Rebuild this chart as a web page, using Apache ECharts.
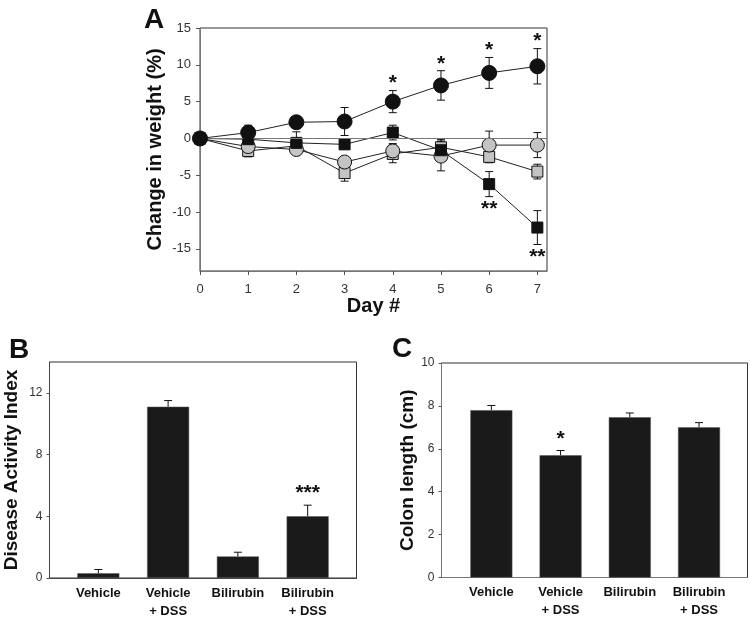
<!DOCTYPE html>
<html>
<head>
<meta charset="utf-8">
<script src="https://cdn.jsdelivr.net/npm/echarts@6/dist/echarts.min.js"></script>
<style>html,body{margin:0;padding:0;background:#fff}#c{width:750px;height:620px}</style>
</head>
<body>
<div id="c"></div>
<script>
// ---------- Panel A data ----------
const days = [0, 1, 2, 3, 4, 5, 6, 7];
const vehicle      = [0, 0.8, 2.2, 2.3, 5.0, 7.2, 8.9, 9.8];
const vehicleErr   = [0, 1.0, 0.3, 1.9, 1.5, 2.0, 2.1, 2.4];
const vehicleDSS   = [0, -0.1, -0.6, -0.8, 0.8, -1.6, -6.2, -12.1];
const vehicleDSSErr= [0, 0.5, 1.5, 0.6, 1.0, 1.5, 1.7, 2.3];
const bili         = [0, -1.1, -1.5, -3.2, -1.7, -2.4, -0.9, -0.9];
const biliErr      = [0, 0.8, 0.5, 0.7, 1.0, 2.0, 1.9, 1.7];
const biliDSS      = [0, -1.7, -1.0, -4.7, -2.1, -1.2, -2.5, -4.5];
const biliDSSErr   = [0, 0.8, 0.6, 1.1, 1.2, 1.0, 0.8, 1.0];
const starsAbove   = ['', '', '', '', '*', '*', '*', '*'];
const starsBelow   = ['', '', '', '', '', '', '**', '**'];
const yTicksA = [-15, -10, -5, 0, 5, 10, 15];

// ---------- Panel B / C data ----------
const groups = ['Vehicle', 'Vehicle\n+ DSS', 'Bilirubin', 'Bilirubin\n+ DSS'];
const dai     = [0.3, 11.1, 1.4, 4.0];
const daiErr  = [0.25, 0.4, 0.27, 0.72];
const daiStars = ['', '', '', '***'];
const colon    = [7.8, 5.7, 7.47, 7.0];
const colonErr = [0.22, 0.22, 0.2, 0.22];
const colonStars = ['', '*', '', ''];
const yTicksB = [0, 4, 8, 12];
const yTicksC = [0, 2, 4, 6, 8, 10];

const FONT = "'Liberation Sans', Arial, sans-serif";

function pts(xs, ys) { return xs.map((x, i) => [x, ys[i]]); }
function errData(xs, ys, es) { return xs.map((x, i) => [x, ys[i], es[i]]); }

function errRender(oneSided, above, below, cap, aboveOff, belowOff) {
  return function (params, api) {
    const x = api.value(0), m = api.value(1), e = api.value(2), i = params.dataIndex;
    const hi = api.coord([x, m + e]);
    const lo = api.coord([x, oneSided ? m : m - e]);
    const ch = [];
    const ls = { stroke: '#111', lineWidth: 1 };
    if (e > 0) {
      ch.push({ type: 'line', shape: { x1: hi[0], y1: hi[1], x2: lo[0], y2: lo[1] }, style: ls });
      ch.push({ type: 'line', shape: { x1: hi[0] - cap, y1: hi[1], x2: hi[0] + cap, y2: hi[1] }, style: ls });
      if (!oneSided) ch.push({ type: 'line', shape: { x1: lo[0] - cap, y1: lo[1], x2: lo[0] + cap, y2: lo[1] }, style: ls });
    }
    if (above && above[i]) {
      ch.push({ type: 'text', x: hi[0], y: hi[1] - aboveOff,
        style: { text: above[i], fill: '#111', font: 'bold 21px ' + FONT, align: 'center', verticalAlign: 'middle' } });
    }
    if (below && below[i]) {
      ch.push({ type: 'text', x: lo[0], y: lo[1] + belowOff,
        style: { text: below[i], fill: '#111', font: 'bold 21px ' + FONT, align: 'center', verticalAlign: 'middle' } });
    }
    return { type: 'group', children: ch };
  };
}

const tickLabelA = { color: '#333', fontSize: 13, fontFamily: FONT };
const tickLabel = { color: '#333', fontSize: 12, fontFamily: FONT };
const titleStyle = (s) => ({ color: '#111', fontSize: s, fontWeight: 'bold', fontFamily: FONT });

function lineSeries(data, symbol, size, fill, z) {
  return {
    type: 'line', xAxisIndex: 0, yAxisIndex: 0, data: data,
    symbol: symbol, symbolSize: size, z: z,
    lineStyle: { color: '#222', width: 1 },
    itemStyle: { color: fill, borderColor: '#111', borderWidth: 1 },
    animation: false
  };
}

const chart = echarts.init(document.getElementById('c'));
const option = {
  animation: false,
  backgroundColor: '#fff',
  textStyle: { fontFamily: FONT },
  grid: [
    { left: 200, top: 28, width: 347, height: 243, show: true, borderColor: '#333', borderWidth: 1, outerBoundsMode: 'none', containLabel: false },
    { left: 49.5, top: 362, width: 307, height: 216, show: true, borderColor: '#333', borderWidth: 1, outerBoundsMode: 'none', containLabel: false },
    { left: 441.5, top: 363, width: 306, height: 214.5, show: true, borderColor: '#333', borderWidth: 1, outerBoundsMode: 'none', containLabel: false }
  ],
  xAxis: [
    { gridIndex: 0, type: 'value', min: 0, max: 7.2,
      name: 'Day #', nameLocation: 'middle', nameGap: 22, nameTextStyle: titleStyle(20),
      axisLine: { onZero: false, lineStyle: { color: '#777' } }, splitLine: { show: false },
      axisTick: { show: true, inside: false, length: 4, lineStyle: { color: '#555' }, customValues: days },
      axisLabel: Object.assign({ margin: 12, customValues: days }, tickLabelA) },
    { gridIndex: 1, type: 'value', min: -0.7, max: 3.7,
      axisLine: { onZero: false, lineStyle: { color: '#444' } }, splitLine: { show: false }, axisTick: { show: false },
      axisLabel: { customValues: [0, 1, 2, 3], formatter: v => groups[Math.round(v)],
        color: '#111', fontSize: 13, fontWeight: 'bold', fontFamily: FONT, lineHeight: 18, margin: 6 } },
    { gridIndex: 2, type: 'value', min: -0.72, max: 3.7,
      axisLine: { onZero: false, lineStyle: { color: '#777' } }, splitLine: { show: false }, axisTick: { show: false },
      axisLabel: { customValues: [0, 1, 2, 3], formatter: v => groups[Math.round(v)],
        color: '#111', fontSize: 13, fontWeight: 'bold', fontFamily: FONT, lineHeight: 18, margin: 6 } }
  ],
  yAxis: [
    { gridIndex: 0, type: 'value', min: -18, max: 15,
      name: 'Change in weight (%)', nameLocation: 'middle', nameGap: 35, nameTextStyle: titleStyle(20),
      axisLine: { show: true, onZero: false, lineStyle: { color: '#777' } }, splitLine: { show: false },
      axisTick: { show: true, length: 4, lineStyle: { color: '#555' }, customValues: yTicksA },
      axisLabel: Object.assign({ margin: 9, customValues: yTicksA }, tickLabelA) },
    { gridIndex: 1, type: 'value', min: 0, max: 14,
      name: 'Disease Activity Index', nameLocation: 'middle', nameGap: 28, nameTextStyle: titleStyle(19),
      axisLine: { show: true, onZero: false, lineStyle: { color: '#444' } }, splitLine: { show: false },
      axisTick: { show: true, length: 3, lineStyle: { color: '#555' }, customValues: yTicksB },
      axisLabel: Object.assign({ margin: 7, customValues: yTicksB }, tickLabel) },
    { gridIndex: 2, type: 'value', min: 0, max: 10,
      name: 'Colon length (cm)', nameLocation: 'middle', nameGap: 23, nameTextStyle: titleStyle(19),
      axisLine: { show: true, onZero: false, lineStyle: { color: '#777' } }, splitLine: { show: false },
      axisTick: { show: true, length: 3, lineStyle: { color: '#555' }, customValues: yTicksC },
      axisLabel: Object.assign({ margin: 7, customValues: yTicksC }, tickLabel) }
  ],
  graphic: [
    { type: 'text', left: 144, top: 6, style: { text: 'A', font: 'bold 28px ' + FONT, fill: '#111' } },
    { type: 'text', left: 9, top: 336, style: { text: 'B', font: 'bold 28px ' + FONT, fill: '#111' } },
    { type: 'text', left: 392, top: 335, style: { text: 'C', font: 'bold 28px ' + FONT, fill: '#111' } }
  ],
  series: [
    // error bars A (behind markers)
    { type: 'custom', xAxisIndex: 0, yAxisIndex: 0, z: 1, data: errData(days, biliDSS, biliDSSErr), renderItem: errRender(false, null, null, 4) },
    { type: 'custom', xAxisIndex: 0, yAxisIndex: 0, z: 1, data: errData(days, bili, biliErr), renderItem: errRender(false, null, null, 4) },
    { type: 'custom', xAxisIndex: 0, yAxisIndex: 0, z: 1, data: errData(days, vehicleDSS, vehicleDSSErr), renderItem: errRender(false, null, starsBelow, 4, 0, 13) },
    { type: 'custom', xAxisIndex: 0, yAxisIndex: 0, z: 1, data: errData(days, vehicle, vehicleErr), renderItem: errRender(false, starsAbove, null, 4, 7, 0) },
    // lines A
    Object.assign(lineSeries(pts(days, biliDSS), 'rect', 11, '#c4c4c4', 2), {
      markLine: { silent: true, symbol: 'none', label: { show: false }, lineStyle: { color: '#777', width: 1, type: 'solid' }, data: [{ yAxis: 0 }], animation: false }
    }),
    lineSeries(pts(days, bili), 'circle', 14, '#c4c4c4', 3),
    lineSeries(pts(days, vehicleDSS), 'rect', 11, '#111', 4),
    lineSeries(pts(days, vehicle), 'circle', 15, '#111', 5),
    // Panel B
    { type: 'bar', xAxisIndex: 1, yAxisIndex: 1, barWidth: 42, data: pts([0, 1, 2, 3], dai),
      itemStyle: { color: '#1a1a1a', borderColor: '#555', borderWidth: 0.5 } },
    { type: 'custom', xAxisIndex: 1, yAxisIndex: 1, z: 3, data: errData([0, 1, 2, 3], dai, daiErr), renderItem: errRender(true, daiStars, null, 4, 12, 0) },
    // Panel C
    { type: 'bar', xAxisIndex: 2, yAxisIndex: 2, barWidth: 42, data: pts([0, 1, 2, 3], colon),
      itemStyle: { color: '#1a1a1a', borderColor: '#555', borderWidth: 0.5 } },
    { type: 'custom', xAxisIndex: 2, yAxisIndex: 2, z: 3, data: errData([0, 1, 2, 3], colon, colonErr), renderItem: errRender(true, colonStars, null, 4, 11, 0) }
  ]
};
chart.setOption(option);
</script>
</body>
</html>
